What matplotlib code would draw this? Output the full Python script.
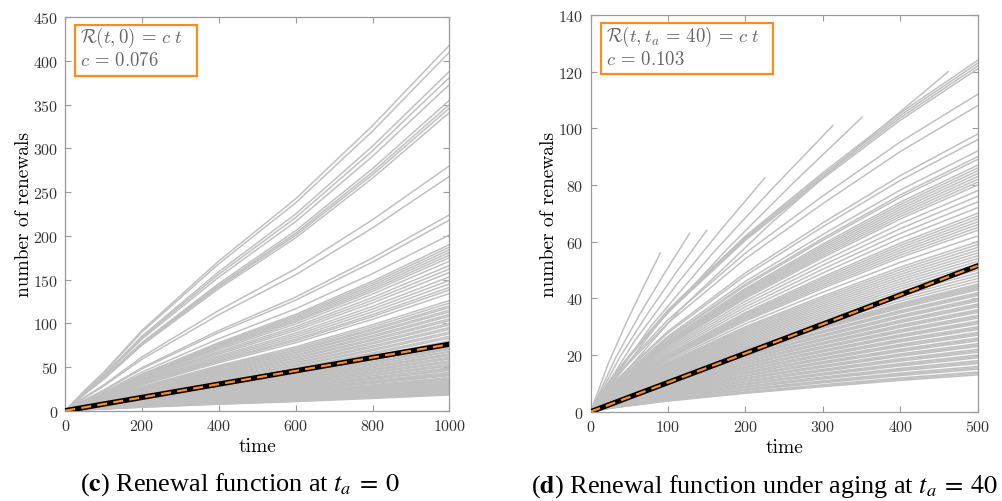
import numpy as np
import matplotlib.pyplot as plt
from matplotlib.patches import Rectangle

#configs
GRAY = "#c0c0c0"
ORANGE = "#ff8c1a"
SPINE = "#999999"
TEXT_GRAY = "#666666"

plt.rcParams["font.family"] = ["cmr10", "DejaVu Serif"]
plt.rcParams["mathtext.fontset"] = "cm"
plt.rcParams["axes.formatter.use_mathtext"] = True

# panel (c): renewal function at t_a = 0
C_TIME = [0, 50, 100, 200, 400, 600, 800, 1000]
C_SHAPE = [0, 0.055, 0.105, 0.22, 0.41, 0.58, 0.78, 1.0]
C_ENDS = [
    418, 410, 388, 381, 373, 355, 350, 346, 341,
    280, 268,
    224, 218, 201,
    190, 187, 184, 181, 178, 175, 171, 166, 162, 158, 153, 149, 145, 141, 138, 134,
    126, 123, 120, 118, 115, 113, 110, 108, 105, 103, 100, 98, 95, 93, 90, 88, 85, 83, 80,
    78, 77, 75, 74, 72, 71, 70, 68, 67, 65, 64, 63, 61, 60, 59, 57, 56, 55, 53, 52,
    51, 49, 48, 47, 46, 44, 43, 42, 41, 40, 38, 37, 36, 35, 34, 33, 32, 31, 30, 29,
    28, 27, 26, 25, 24, 23, 22, 21, 20, 19, 18,
]
C_RATE = 0.076
C_XTICKS = [0, 200, 400, 600, 800, 1000]
C_YTICKS = [0, 50, 100, 150, 200, 250, 300, 350, 400, 450]

# panel (d): renewal function under aging at t_a = 40
D_TIME = [0, 25, 50, 100, 200, 300, 400, 500]
D_SHAPE = [0, 0.09, 0.16, 0.29, 0.5, 0.68, 0.85, 1.0]
D_ENDS = [
    124, 123, 122, 121, 112, 108, 98, 96,
    92, 90, 89, 87, 86, 85, 84, 83, 82, 81, 80, 78, 76, 74, 72, 70, 69, 68, 67, 66,
    65, 64, 62, 60, 59, 58, 57, 56, 55, 54, 53, 52, 51, 50, 49, 48, 47, 46, 45,
    44.5, 44, 43.5, 43, 42, 41.5, 41, 40, 39.5, 39, 38, 37.5, 37, 36, 35.5, 35, 34,
    33.5, 33, 32, 31.5, 31, 30, 29.5, 29, 28, 27.5, 27, 26, 25.5, 25, 24, 23.5, 23,
    22, 21.5, 21, 20, 19.5, 19, 18, 17.5, 17, 16, 15.5, 15, 14, 13.5, 13,
]
# runs that stop before t = 500
D_CUT_T = [90, 128, 150, 225, 313, 351, 462]
D_CUT_V = [56, 63, 64, 82.5, 101, 104, 120]
D_CUT_STEPS = [0, 0.25, 0.5, 0.75, 1.0]
D_CUT_SHAPE = [0, 0.3, 0.55, 0.78, 1.0]
D_RATE = 0.103
D_XTICKS = [0, 100, 200, 300, 400, 500]
D_YTICKS = [0, 20, 40, 60, 80, 100, 120, 140]


def style_axes(ax, xmax, ymax, xticks, yticks):
    ax.set_xlim(0, xmax)
    ax.set_ylim(0, ymax)
    ax.set_xticks(xticks)
    ax.set_yticks(yticks)
    ax.tick_params(direction="in", top=True, right=True, length=4, width=0.8,
                   color=SPINE, labelsize=11.5, labelcolor="#333333", pad=5)
    for s in ax.spines.values():
        s.set_color(SPINE)
        s.set_linewidth(0.9)
    ax.set_xlabel("time", fontsize=14)
    ax.set_ylabel("number of renewals", fontsize=14)
    ax.xaxis.set_label_coords(0.5, -0.09)
    ax.xaxis.label.set_va("center")
    ax.yaxis.set_label_coords(-0.108, 0.5)
    ax.yaxis.label.set_va("center")


def draw_fit(ax, rate, tmax):
    ax.plot([0, tmax], [0, rate * tmax], color="black", lw=3.8,
            solid_capstyle="round", zorder=5)
    ax.plot([0, tmax], [0, rate * tmax], color=ORANGE, lw=1.6,
            dashes=(4.5, 2.8), zorder=6)


def draw_box(ax, x0, x1, y0, y1, lines, ys):
    ax.add_patch(Rectangle((x0, y0), x1 - x0, y1 - y0, transform=ax.transAxes,
                           fc="white", ec=ORANGE, lw=1.6, zorder=8))
    for txt, y in zip(lines, ys):
        ax.text(x0 + 0.012, y, txt, transform=ax.transAxes, fontsize=13.5,
                color=TEXT_GRAY, va="baseline", ha="left", zorder=9)


fig = plt.figure(figsize=(10.03, 5.02), dpi=100)
ax_c = fig.add_axes([0.0651, 0.1799, 0.3829, 0.7837])
ax_d = fig.add_axes([0.5889, 0.1779, 0.3858, 0.7902])

#panel c
shape_c = np.array(C_SHAPE)
for end in C_ENDS:
    ax_c.plot(C_TIME, end * shape_c, color=GRAY, lw=1.1, zorder=2)
draw_fit(ax_c, C_RATE, 1000)
style_axes(ax_c, 1000, 450, C_XTICKS, C_YTICKS)
draw_box(ax_c, 0.025, 0.343, 0.851, 0.981,
         [r"$\mathcal{R}(t,0) \,=\, c\;t$", r"$c \,=\, 0.076$"], [0.937, 0.8775])

#panel d
shape_d = np.array(D_SHAPE)
for end in D_ENDS:
    ax_d.plot(D_TIME, end * shape_d, color=GRAY, lw=1.1, zorder=2)
for t_end, v_end in zip(D_CUT_T, D_CUT_V):
    ax_d.plot(np.array(D_CUT_STEPS) * t_end, np.array(D_CUT_SHAPE) * v_end,
              color=GRAY, lw=1.1, zorder=2)
draw_fit(ax_d, D_RATE, 500)
style_axes(ax_d, 500, 140, D_XTICKS, D_YTICKS)
draw_box(ax_d, 0.027, 0.471, 0.851, 0.980,
         [r"$\mathcal{R}(t,t_a \,=\, 40) \,=\, c\;t$", r"$c \,=\, 0.103$"], [0.9345, 0.8765])

#captions
cap = dict(fontsize=18.9, family="Liberation Serif", math_fontfamily="stix",
           ha="center", va="center", color="black")
fig.text(239.5 / 1003, 1 - 485 / 502,
         r"($\mathbf{c}$) Renewal function at $t_a \:=\: 0$", **cap)
fig.text(764.5 / 1003, 1 - 487 / 502,
         r"($\mathbf{d}$) Renewal function under aging at $t_a \:=\: 40$", **cap)

fig.savefig("out.png", dpi=100)
